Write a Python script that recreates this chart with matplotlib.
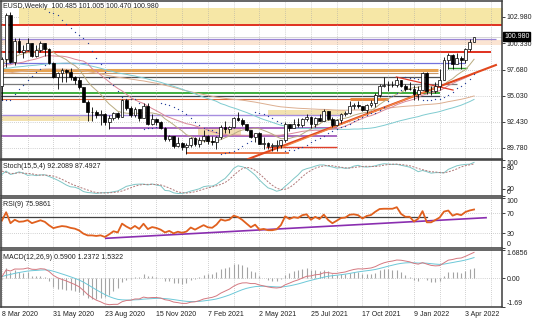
import matplotlib
matplotlib.use('Agg')
import matplotlib.pyplot as plt
import matplotlib.transforms as mtransforms
import numpy as np
import pandas as pd

plt.rcParams['font.family'] = ['Liberation Sans', 'DejaVu Sans']

##########   weekly data (dollar index)   ##########

# closes Jan-Aug 2019, only used to warm up the averages
close_2019 = [96.2, 95.7, 96.4, 95.6, 96.4, 97.0, 96.5, 96.5, 97.3, 96.6, 96.2, 96.6,
              97.3, 97.4, 97.0, 97.4, 98.0, 97.5, 97.3, 98.0, 97.6, 97.7, 96.5, 96.6,
              96.2, 96.1, 96.8, 96.8, 97.2, 98.0, 98.2, 97.5, 98.2, 98.0, 98.9]

# 8 Sep 2019 .. 1 Mar 2020 (before the first visible bar)
pre_high = [98.7, 98.7, 99.3, 99.7, 99.3, 98.4, 97.9, 98.0, 98.5, 98.5, 98.3, 98.5, 98.4,
            97.8, 97.8, 97.8, 97.6, 97.4, 97.5, 97.9, 98.2, 98.7, 99.2, 99.9, 99.4, 98.2]
pre_low = [97.9, 98.0, 98.4, 98.5, 98.3, 97.3, 97.2, 97.1, 97.2, 97.8, 97.8, 98.1, 97.4,
           96.6, 97.0, 97.4, 96.4, 96.5, 97.1, 97.4, 97.3, 97.4, 98.6, 99.1, 97.9, 95.9]
pre_close = [98.3, 98.5, 99.1, 98.8, 98.3, 97.3, 97.8, 97.2, 98.4, 97.9, 98.3, 98.3, 97.7,
             97.2, 97.7, 97.6, 96.8, 97.4, 97.6, 97.9, 97.4, 98.7, 99.1, 99.3, 98.1, 96.0]

# visible weeks: 8 Mar 2020 .. 17 Apr 2022
high = [98.9, 103.4, 103.5, 100.9, 100.9, 100.2, 100.9, 100.4, 100.2, 100.6, 100.4, 99.9,
        98.4, 97.4, 97.8, 97.7, 97.8, 97.0, 96.9, 95.9, 94.6, 93.9, 93.6, 93.6, 93.3, 93.1,
        93.4, 93.4, 94.7, 94.7, 94.0, 93.9, 93.7, 94.3, 94.3, 93.2, 92.8, 92.5, 91.9, 91.1,
        91.0, 90.9, 90.4, 90.3, 90.9, 90.9, 90.9, 91.6, 91.1, 91.0, 91.0, 92.1, 92.5, 92.0,
        92.9, 93.4, 92.8, 92.2, 91.6, 91.3, 91.4, 90.9, 90.4, 90.3, 90.6, 90.6, 92.4, 92.1,
        92.7, 92.8, 92.8, 93.2, 93.0, 92.9, 93.2, 93.7, 93.5, 92.9, 92.7, 93.3, 93.5, 94.5,
        94.3, 94.5, 94.0, 94.2, 94.6, 95.3, 96.2, 96.9, 96.5, 96.5, 96.9, 96.6, 96.2, 96.4,
        96.1, 96.0, 97.4, 97.4, 96.0, 96.4, 97.7, 98.9, 99.4, 99.2, 99.4, 99.0, 99.9, 100.8,
        101.005]
low = [94.65, 97.9, 98.3, 98.1, 99.4, 98.8, 99.6, 98.9, 98.9, 99.5, 99.0, 98.2, 96.8,
       95.7, 96.4, 96.4, 96.6, 96.2, 95.7, 94.4, 92.5, 92.5, 92.8, 92.1, 92.1, 91.7, 92.6,
       92.7, 92.9, 93.6, 92.9, 92.9, 92.5, 92.8, 92.1, 92.1, 92.1, 91.7, 90.5, 90.5, 89.8,
       89.9, 89.6, 89.2, 89.9, 90.0, 89.9, 90.4, 90.2, 90.1, 89.7, 90.7, 91.3, 91.3, 91.8,
       92.5, 92.0, 91.5, 90.8, 90.4, 90.2, 89.7, 89.7, 89.5, 89.5, 89.8, 90.4, 91.5, 91.8,
       91.9, 91.9, 92.5, 91.8, 91.9, 92.5, 92.5, 92.6, 91.9, 92.0, 92.3, 93.0, 93.2, 93.7,
       93.8, 93.5, 93.3, 93.9, 93.9, 94.9, 95.9, 95.5, 95.9, 95.9, 95.9, 95.5, 95.6, 94.6,
       94.6, 95.6, 95.2, 95.1, 95.3, 95.6, 96.6, 97.7, 97.7, 98.2, 97.7, 98.3, 99.6, 100.47]
close = [98.7, 103.2, 98.4, 100.6, 99.5, 99.7, 100.4, 99.0, 99.7, 100.4, 99.8, 98.3,
         96.9, 97.3, 97.6, 97.4, 96.9, 96.6, 95.9, 94.4, 93.4, 93.4, 93.1, 93.2, 92.4, 92.8,
         93.3, 92.9, 94.6, 93.8, 93.1, 93.7, 92.8, 94.0, 92.2, 92.7, 92.4, 91.8, 90.7, 91.0,
         90.0, 90.3, 89.9, 90.1, 90.8, 90.2, 90.6, 91.0, 90.5, 90.4, 90.9, 91.9, 91.7, 91.9,
         92.8, 92.6, 92.2, 91.6, 90.9, 91.3, 90.2, 90.3, 90.0, 90.0, 90.1, 90.6, 92.2, 91.8,
         92.2, 92.1, 92.7, 92.9, 92.2, 92.8, 92.5, 93.5, 92.7, 92.1, 92.6, 93.2, 93.3, 94.0,
         94.1, 94.0, 93.6, 94.1, 94.3, 95.1, 96.0, 96.1, 96.1, 96.1, 96.6, 96.0, 95.7, 95.7,
         95.2, 95.6, 97.3, 95.5, 95.5, 96.0, 96.6, 98.6, 99.1, 98.2, 98.8, 98.6, 99.8, 100.5,
         100.98]
last_open = 100.485

date_labels = ['8 Mar 2020', '31 May 2020', '23 Aug 2020', '15 Nov 2020', '7 Feb 2021',
               '2 May 2021', '25 Jul 2021', '17 Oct 2021', '9 Jan 2022', '3 Apr 2022']
date_weeks = [0, 12, 24, 36, 48, 60, 72, 84, 96, 108]

price_ticks = [102.98, 100.33, 97.68, 95.03, 92.43, 89.78]

# drawn horizontal levels: price, first week, last week
levels = [(102.17, -1, 118), (100.76, -1, 115), (99.45, -1, 114), (98.34, -1, 108),
          (97.64, -1, 101.6), (97.29, -1, 101.6), (96.93, -1, 102), (96.23, -1, 106),
          (95.32, -1, 102), (94.97, -1, 102), (94.72, -1, 90), (94.70, 81, 90),
          (93.10, -1, 79.5), (91.80, 25, 78), (91.00, -1, 78), (89.30, 43, 67),
          (89.90, 61.6, 78), (97.84, 104, 108.4)]
level_colors = ['#e0301e', '#9b86d6', '#e0301e', '#7373dd', '#e6a250', '#c89868',
                '#505050', '#7a7a7a', '#1ea01e', '#3c4650', '#e06a3a', '#e88030',
                '#a68ee0', '#9040b0', '#9040b0', '#e8602a', '#e0402a', '#2ea02e']
level_widths = [1.4, 0.9, 1.4, 0.9, 2.2, 0.8, 0.9, 0.9, 1.2, 0.9, 0.8, 2.0,
                1.0, 1.1, 1.1, 1.2, 1.0, 1.0]

# shaded zones: top price, bottom price, first week, last week
zones = [(103.89, 102.27, 4, 118), (100.62, 100.20, -1, 118), (93.0, 92.5, -1, 21),
         (93.6, 93.1, 62, 80), (91.8, 91.1, 45.6, 55.6)]
zone_colors = ['#f6e7a6', '#fbe4d2', '#f3e2b0', '#f3e2b0', '#f2dcb0']

# trend lines: (week, price) pairs
trends = [((57.4, 88.67), (115.1, 98.14)), ((64.9, 89.78), (102.1, 96.03)),
          ((91.9, 96.93), (105.1, 95.62))]
trend_colors = ['#e2481e', '#f08848', '#e03a2a']
trend_widths = [1.5, 0.9, 0.9]

rsi_level = 62.6
rsi_trend = ((24.2, 19.4), (112.8, 60.6))

##########   indicators   ##########

def sma(v, p):
    return pd.Series(v).rolling(p).mean().values

def ema(v, p):
    out = np.empty(len(v))
    k = 2. / (p + 1)
    out[0] = v[0]
    for j in range(1, len(v)):
        out[j] = out[j-1] + k * (v[j] - out[j-1])
    return out

def rsi(v, p):
    d = np.diff(v)
    up = np.clip(d, 0, None)
    dn = np.clip(-d, 0, None)
    au = up[:p].mean()
    ad = dn[:p].mean()
    out = np.full(len(v), np.nan)
    for j in range(p, len(d)):
        au = (au * (p - 1) + up[j]) / p
        ad = (ad * (p - 1) + dn[j]) / p
        out[j+1] = 100 - 100 / (1 + au / ad)
    return out

def stoch(h, l, c, kp, slow, dp):
    hh = pd.Series(h).rolling(kp, min_periods=1).max().values
    ll = pd.Series(l).rolling(kp, min_periods=1).min().values
    k = 100 * sma(c - ll, slow) / sma(hh - ll, slow)
    return k, sma(k, dp)

def psar(h, l, step=0.02, amax=0.2):
    n = len(h)
    s = np.zeros(n)
    s[0] = l[0]
    up, af, ep = True, step, h[0]
    for k in range(1, n):
        v = s[k-1] + af * (ep - s[k-1])
        if up:
            v = min(v, l[k-1], l[max(k-2, 0)])
            if l[k] < v:
                up, v, ep, af = False, ep, l[k], step
            elif h[k] > ep:
                ep, af = h[k], min(af + step, amax)
        else:
            v = max(v, h[k-1], h[max(k-2, 0)])
            if h[k] > v:
                up, v, ep, af = True, ep, h[k], step
            elif l[k] < ep:
                ep, af = l[k], min(af + step, amax)
        s[k] = v
    return s

high = np.array(high)
low = np.array(low)
close = np.array(close)
opn = np.r_[pre_close[-1], close[:-1]]
opn[-1] = last_open
x = np.arange(len(close))

c_all = np.r_[close_2019, pre_close, close]
n0 = len(close_2019) + len(pre_close)
ma10 = sma(c_all, 10)[n0:]
ma20 = sma(c_all, 20)[n0:]
ma50 = sma(c_all, 50)[n0:]
ma100 = ema(c_all, 100)[n0:]
sar = psar(high, low)

npre = len(pre_close)
k_line, d_line = stoch(np.r_[pre_high, high], np.r_[pre_low, low], np.r_[pre_close, close], 15, 5, 4)
k_line, d_line = k_line[npre:], d_line[npre:]
rsi9 = rsi(c_all, 9)[n0:]
macd = ema(c_all, 12) - ema(c_all, 26)
sig = ema(macd, 9)
macd, sig = macd[n0:], sig[n0:]
hist = 2 * (macd - sig)

##########   figure   ##########

W, H = 536, 321
fig = plt.figure(figsize=(W/100., H/100.), dpi=100)
fig.patch.set_facecolor('white')
FS = 5.0

def box(top, bottom, left=1, right=502):
    return [left/W, 1 - bottom/H, (right-left)/W, (bottom-top)/H]

ax1 = fig.add_axes(box(1, 159))
ax2 = fig.add_axes(box(160, 196))
ax3 = fig.add_axes(box(198, 248))
ax4 = fig.add_axes(box(250, 307))

xmin, xmax = -0.2, (502 - 1) / 4.3
for ax in (ax1, ax2, ax3, ax4):
    ax.set_xlim(xmin, xmax)
    for sp in ax.spines.values():
        sp.set_color('#3c3c3c')
        sp.set_linewidth(1.1)
    ax.yaxis.tick_right()
    ax.tick_params(axis='y', direction='out', length=2, width=0.6, labelsize=FS,
                   pad=1.5, colors='#202020')
    ax.tick_params(axis='x', length=0)
    ax.set_xticks(np.arange(0, 118, 6))
    ax.set_xticklabels([])
    ax.grid(axis='x', color='#a8a8a8', ls=(0, (1, 2)), lw=0.5)

def edge_labels(ax):
    # MT4 keeps the end labels of a sub-window inside it
    labs = ax.get_yticklabels()
    labs[0].set_va('bottom')
    labs[-1].set_va('top')

# main price panel
ax1.set_ylim(88.67, 104.59)
ax1.set_yticks(price_ticks)
ax1.set_yticklabels(['%.3f' % p for p in price_ticks])
for p in price_ticks:
    ax1.axhline(p, color='#a8a8a8', ls=(0, (1, 2)), lw=0.5, zorder=0)

for (top, bot, a, b), col in zip(zones, zone_colors):
    ax1.fill_between([a, b], bot, top, color=col, lw=0, zorder=0.5)
for (p, a, b), col, lw in zip(levels, level_colors, level_widths):
    ax1.plot([a, b], [p, p], color=col, lw=lw, zorder=1, solid_capstyle='butt')
for (p0, p1), col, lw in zip(trends, trend_colors, trend_widths):
    ax1.plot([p0[0], p1[0]], [p0[1], p1[1]], color=col, lw=lw, zorder=3)

ax1.plot(x, ma100, color='#dcae90', lw=0.7, zorder=2)
ax1.plot(x, ma50, color='#7fcbd0', lw=0.7, zorder=2)
ax1.plot(x, ma20, color='#d98898', lw=0.7, zorder=2)
ax1.plot(x, ma10, color='#b9ab80', lw=0.7, zorder=2)
ax1.scatter(x, sar, s=0.9, color='#243f9a', zorder=4, lw=0)

ax1.vlines(x, low, high, color='black', lw=0.6, zorder=5)
bull = close >= opn
body = np.maximum(np.abs(close - opn), 0.05)
ax1.bar(x[bull], body[bull], bottom=np.minimum(opn, close)[bull], width=0.66,
        color='white', edgecolor='black', lw=0.5, zorder=6)
ax1.bar(x[~bull], body[~bull], bottom=np.minimum(opn, close)[~bull], width=0.66,
        color='black', edgecolor='black', lw=0.5, zorder=6)

ax1.axhline(close[-1], color='#c8c8c8', lw=0.5, zorder=0.8)
tr = mtransforms.blended_transform_factory(ax1.transAxes, ax1.transData)
ax1.text(1.004, close[-1], '%.3f' % close[-1], transform=tr, fontsize=FS, color='white',
         va='center', ha='left', bbox=dict(boxstyle='square,pad=0.15', fc='black', ec='black'))
ax1.text(0.004, 0.99, 'EUSD,Weekly  100.485 101.005 100.470 100.980', transform=ax1.transAxes,
         fontsize=FS, va='top', ha='left', color='#202020')

# stochastic
ax2.set_ylim(0, 100)
ax2.set_yticks([0, 20, 80, 100])
ax2.set_yticklabels(['0', '20', '80', '100'])
edge_labels(ax2)
ax2.plot(x, k_line, color='#7fc6c6', lw=0.7)
ax2.plot(x, d_line, color='#b07878', lw=0.7, ls=(0, (2, 1.5)))
ax2.text(0.004, 0.93, 'Stoch(15,5,4) 92.2089 87.4927', transform=ax2.transAxes,
         fontsize=FS, va='top', ha='left', color='#202020')

# RSI
ax3.set_ylim(0, 100)
ax3.set_yticks([0, 30, 70, 100])
ax3.set_yticklabels(['0', '30', '70', '100'])
edge_labels(ax3)
for lv in (70, 30):
    ax3.axhline(lv, color='#a8a8a8', ls=(0, (1, 2)), lw=0.5)
ax3.plot([-1, 99], [rsi_level, rsi_level], color='#404040', lw=0.9)
ax3.plot([rsi_trend[0][0], rsi_trend[1][0]], [rsi_trend[0][1], rsi_trend[1][1]],
         color='#8a2eb0', lw=1.2)
ax3.plot(x, rsi9, color='#e0601e', lw=1.3)
ax3.text(0.004, 0.95, 'RSI(9) 75.9861', transform=ax3.transAxes,
         fontsize=FS, va='top', ha='left', color='#202020')

# MACD
ax4.set_ylim(-1.69, 1.6856)
ax4.set_yticks([-1.69, 0, 1.6856])
ax4.set_yticklabels(['-1.69', '0.00', '1.6856'])
edge_labels(ax4)
ax4.axhline(0, color='#a8a8a8', ls=(0, (1, 2)), lw=0.5)
ax4.vlines(x, 0, hist, color='#a4a4a4', lw=0.8)
ax4.plot(x, sig, color='#6cc8d8', lw=0.7)
ax4.plot(x, macd, color='#d47880', lw=0.7)
ax4.text(0.004, 0.93, 'MACD(12,26,9) 0.5900 1.2372 1.5322', transform=ax4.transAxes,
         fontsize=FS, va='top', ha='left', color='#202020')

xt = mtransforms.blended_transform_factory(ax4.transData, ax4.transAxes)
for w, lab in zip(date_weeks, date_labels):
    ax4.text(w, -0.07, lab, transform=xt, fontsize=FS, va='top', ha='left', color='#202020')

plt.savefig('out.png', dpi=100)
